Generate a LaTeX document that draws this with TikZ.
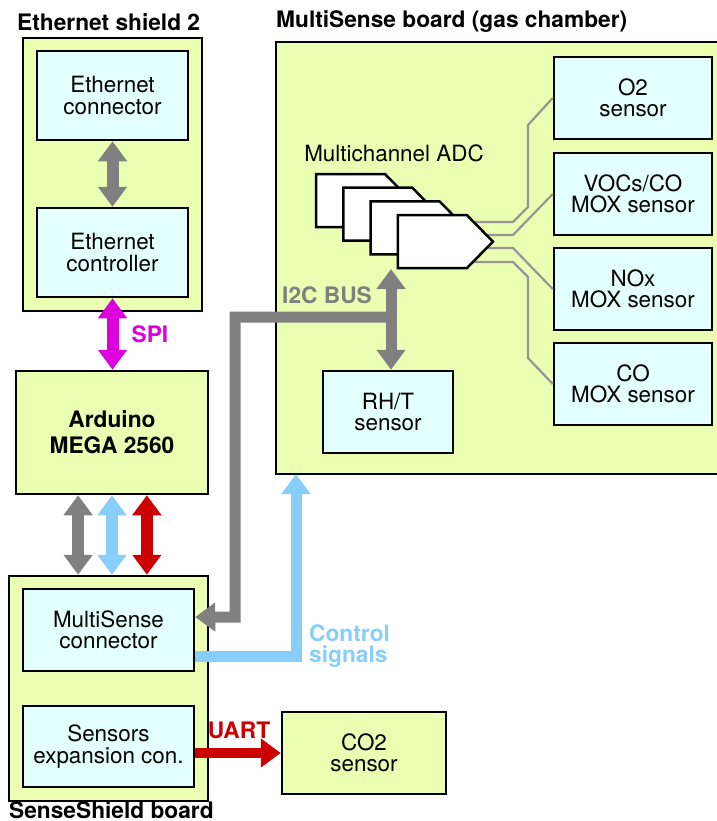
\documentclass[tikz,border=0pt]{standalone}
\usepackage{fontspec}
\setmainfont{TeX Gyre Heros}
\usetikzlibrary{arrows.meta}
\definecolor{boardgreen}{RGB}{234,255,178}
\definecolor{chipcyan}{RGB}{228,255,255}
\definecolor{busgray}{RGB}{128,128,128}
\definecolor{wiregray}{RGB}{150,150,150}
\definecolor{ctrlblue}{RGB}{135,206,250}
\definecolor{uartred}{RGB}{204,0,0}
\definecolor{spimagenta}{RGB}{220,0,220}

\begin{document}
\begin{tikzpicture}[x=1bp,y=-1bp,
  board/.style={draw=black,line width=2.5bp,fill=boardgreen,inner sep=0pt},
  chip/.style={draw=black,line width=2.5bp,fill=chipcyan,inner sep=0pt,align=center,
    font=\fontsize{22.5}{21.5}\selectfont},
  boldtxt/.style={font=\bfseries\fontsize{22.8}{26}\selectfont,inner sep=0pt},
  tip/.tip={Triangle[length=20bp,width=28bp]},
  link/.style={line width=12bp,tip-tip},
  bus/.style={line width=11bp,busgray},
  wire/.style={line width=2.2bp,wiregray},
  adcshape/.style={draw=black,line width=2.5bp,fill=white,line join=miter}]
\useasboundingbox (0,0) rectangle (717,821);

%boards
\node[board,minimum width=179bp,minimum height=273bp] (ethshield) at (112.5,174.5) {};
\node[board,minimum width=460bp,minimum height=432bp] (msboard) at (506,258) {};
\node[board,boldtxt,align=center,minimum width=192bp,minimum height=123bp] (arduino) at (112,432.5) {Arduino\\MEGA 2560};
\node[board,align=center,font=\fontsize{22.5}{21.5}\selectfont,minimum width=164bp,minimum height=82bp] (co2) at (364,753) {CO2\\sensor};

\node[board,minimum width=199bp,minimum height=225bp] (senseshield) at (108.5,688.5) {};

%titles
\node[boldtxt,anchor=west] (ethtitle) at (17,22) {Ethernet shield 2};
\node[boldtxt,anchor=west] (mstitle) at (276,22) {MultiSense board (gas chamber)};
\node[boldtxt,anchor=west] (sstitle) at (9,810) {SenseShield board};

%chips
\node[chip,minimum width=151bp,minimum height=89bp] (ethconn) at (112.5,95.5) {Ethernet\\connector};
\node[chip,minimum width=151bp,minimum height=89bp] (ethctrl) at (112.5,252.5) {Ethernet\\controller};
\node[chip,minimum width=171bp,minimum height=82bp] (msconn) at (108.5,630) {MultiSense\\connector};
\node[chip,minimum width=171bp,minimum height=81bp] (expcon) at (108.5,746.5) {Sensors\\expansion con.};
\node[chip,minimum width=158bp,minimum height=82bp] (o2) at (633,98) {O2\\sensor};
\node[chip,minimum width=158bp,minimum height=82bp] (vocs) at (633,194) {VOCs/CO\\MOX sensor};
\node[chip,minimum width=158bp,minimum height=82bp] (nox) at (633,289) {NOx\\MOX sensor};
\node[chip,minimum width=158bp,minimum height=82bp] (cosens) at (633,384) {CO\\MOX sensor};
\node[chip,minimum width=130bp,minimum height=82bp] (rht) at (388,412) {RH/T\\sensor};

%ADC
\node[font=\fontsize{22.5}{21.5}\selectfont,inner sep=0pt] (adclbl) at (394,153) {Multichannel ADC};
\coordinate (pin1) at (470,222);
\coordinate (pin2) at (470,235);
\coordinate (pin3) at (470,248);
\coordinate (pin4) at (470,262);
\draw[wire] (pin1) -- (513,222) -- (528,207) -- (528,125) -- (o2.west);
\draw[wire] (pin2) -- (513,235) -- (vocs.west);
\draw[wire] (pin3) -- (513,248) -- (nox.west);
\draw[wire] (pin4) -- (513,262) -- (528,277) -- (528,358) -- (cosens.west);
\foreach \i in {0,...,3}
  \draw[adcshape] ({316+27.3*\i},{174+13.7*\i}) -- ++(69,0) -- ++(26,26.5) -- ++(-26,26.5) -- ++(-69,0) -- cycle;

%arrows
\draw[link,busgray] (ethconn.south) -- (ethctrl.north);
\draw[link,spimagenta] (ethctrl.south) -- (ethctrl.south |- arduino.north);
\draw[link,busgray] ([xshift=-34]arduino.south) -- ([xshift=-34]arduino.south |- senseshield.north);
\draw[link,ctrlblue] (arduino.south) -- (arduino.south |- senseshield.north);
\draw[link,uartred] ([xshift=35]arduino.south) -- ([xshift=35]arduino.south |- senseshield.north);

%I2C
\coordinate (adcin) at (391,269);
\coordinate (i2c) at (391,317);
\coordinate (i2cbend) at (235,617);
\draw[bus,tip-tip] (adcin) -- (adcin |- rht.north);
\draw[bus,-tip] (i2c) -| (i2cbend) -- ([yshift=13]msconn.east);

%control + uart
\coordinate (ctrlin) at (296,474);
\draw[line width=11bp,ctrlblue,-tip] ([yshift=-27]msconn.east) -| (ctrlin);
\draw[line width=10bp,uartred,-tip] (expcon.east |- co2.west) -- (co2.west);

%labels
\node[boldtxt,spimagenta] (spilbl) at (150,334) {SPI};
\node[boldtxt,busgray] (i2clbl) at (327,295) {I2C BUS};
\node[boldtxt,uartred] (uartlbl) at (239,730) {UART};
\node[boldtxt,ctrlblue,align=left,anchor=west,font=\bfseries\fontsize{22.8}{21}\selectfont] (ctrllbl) at (309,646) {Control\\signals};
\end{tikzpicture}
\end{document}
